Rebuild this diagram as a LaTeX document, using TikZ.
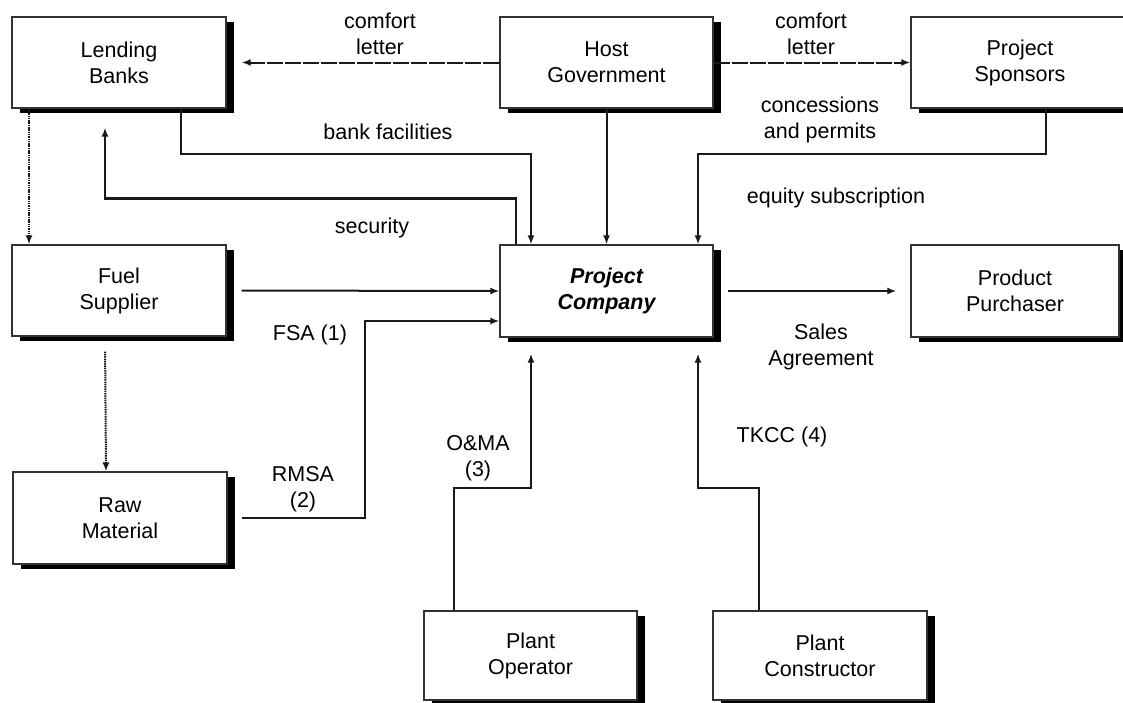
\documentclass[tikz,border=0pt]{standalone}
\usepackage{fontspec}
\setmainfont{Liberation Sans}
\usetikzlibrary{arrows.meta,shadows}
\begin{document}
\begin{tikzpicture}[x=1pt,y=-1pt,
  font=\fontsize{21.5}{26}\selectfont,
  party/.style={draw=black!80,line width=1.2pt,fill=white,align=center,
    inner sep=0pt,minimum height=91pt,
    drop shadow={shadow xshift=8pt,shadow yshift=-5pt,opacity=1,fill=black}},
  conn/.style={draw=black!90,line width=2pt,-{Latex[length=9pt,width=7pt]}},
  thick conn/.style={conn,line width=2.6pt},
  letter line/.style={conn,dash pattern=on 16pt off 2pt},
  dot line/.style={conn,dash pattern=on 1.5pt off 0.8pt},
  lbl/.style={align=center,inner sep=0pt}]
\useasboundingbox (0,0) rectangle (1123,702);
\clip (0,0) rectangle (1123,702);

% parties
\node[party,minimum width=214pt] (lend) at (119,62.5) {Lending\\Banks};
\node[party,minimum width=213pt] (host) at (606.5,62.5) {Host\\Government};
\node[party,minimum width=218pt] (spon) at (1020,62.5) {Project\\Sponsors};
\node[party,minimum width=214pt] (fuel) at (119,290.5) {Fuel\\Supplier};
\node[party,minimum width=213pt,minimum height=92pt] (co) at (606.5,291) {\bfseries\itshape Project\\\bfseries\itshape Company};
\node[party,minimum width=208pt,minimum height=92pt] (pur) at (1015,291) {Product\\Purchaser};
\node[party,minimum width=214pt,minimum height=92pt] (raw) at (120,518) {Raw\\Material};
\node[party,minimum width=213pt,minimum height=89pt] (op) at (530.5,655.5) {Plant\\Operator};
\node[party,minimum width=214pt,minimum height=89pt] (con) at (820,655.5) {Plant\\Constructor};

% comfort letters from the host government
\draw[letter line,shorten >=15pt] (host.west) -- (lend.east);
\draw[letter line] (host.east) -- (spon.west);

% supply chain links on the left
\draw[dot line] ([xshift=-90pt]lend.south) -- ([xshift=-90pt]fuel.north);
\draw[dot line,shorten <=15pt] ([xshift=-14pt]fuel.south) -- ([xshift=-14pt]raw.north);

% finance and government links into the project company
\draw[conn] ([xshift=62pt]lend.south) -- ++(0,45) -| ([xshift=-75.5pt]co.north);
\draw[thick conn,shorten >=19pt] ([xshift=-90.5pt]co.north) -- ++(0,-46) -| ([xshift=-14pt]lend.south);
\draw[conn] (host.south) -- (co.north);
\draw[conn] ([xshift=26pt]spon.south) -- ++(0,45) -| ([xshift=91.5pt]co.north);

% supply agreements
\draw[conn,shorten <=15pt] (fuel.east) -- (co.west);
\draw[conn] ([xshift=14pt]raw.east) -- ++(123,0) |- ([yshift=-30pt]co.west);
\draw[conn,shorten <=14pt,shorten >=14pt] (co.east) -- (pur.west);

% operation and construction contracts
\draw[conn,shorten >=16pt] ([xshift=-76.5pt]op.north) -- ++(0,-122) -| ([xshift=-75.5pt]co.south);
\draw[conn,shorten >=16pt] ([xshift=-61pt]con.north) -- ++(0,-122) -| ([xshift=91.5pt]co.south);

% labels
\node[lbl] (l1) at (380,33.5) {comfort\\letter};
\node[lbl] (l2) at (811,33.5) {comfort\\letter};
\node[lbl] (l3) at (388,132) {bank facilities};
\node[lbl] (l4) at (372,228) {security};
\node[lbl] (l5) at (820,119.5) {concessions\\and permits};
\node[lbl] (l6) at (836,198) {equity subscription};
\node[lbl] (l7) at (310,335) {FSA (1)};
\node[lbl] (l8) at (303,489) {RMSA\\(2)};
\node[lbl] (l9) at (478,458) {O\&MA\\(3)};
\node[lbl] (l10) at (782,437) {TKCC (4)};
\node[lbl] (l11) at (821,347) {Sales\\Agreement};
\end{tikzpicture}
\end{document}
